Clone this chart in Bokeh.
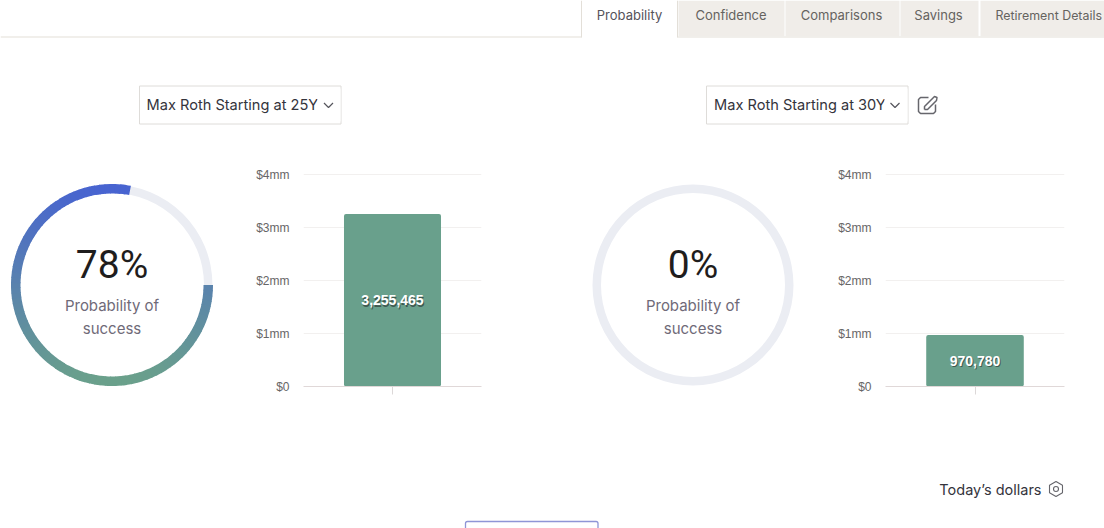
from bokeh.core.properties import value as val
from bokeh.embed import file_html
from bokeh.layouts import column, row
from bokeh.models import FactorRange, FixedTicker, Range1d
from bokeh.plotting import figure
from bokeh.resources import INLINE
import math

# ---- data ----
tab_labels = ["Probability", "Confidence", "Comparisons", "Savings", "Retirement Details"]
scenarios = ["Max Roth Starting at 25Y", "Max Roth Starting at 30Y"]
probabilities = [78, 0]
balances = [3255465, 970780]
balance_labels = ["3,255,465", "970,780"]
y_ticks = [0, 1000000, 2000000, 3000000, 4000000]
y_tick_labels = ["$0", "$1mm", "$2mm", "$3mm", "$4mm"]
donut_caption = ["Probability of", "success"]
currency_note = "Today\u2019s dollars"

UI = val("Inter")
LAB = val("Liberation Sans")
BIG = val("Roboto")
TRACK = "#ebedf3"
BAR = "#69a08c"
TOP_C = (72, 100, 208)
BOT_C = (106, 160, 139)


def canvas(w, h, x0, x1, y0, y1):
    p = figure(width=w, height=h, x_range=Range1d(x0, x1), y_range=Range1d(y0, y1),
               output_backend="svg", toolbar_location=None, min_border=0, frame_align=False)
    p.axis.visible = False
    p.grid.visible = False
    p.outline_line_color = None
    return p


def grad(t):
    c = [round(a + (b - a) * t) for a, b in zip(TOP_C, BOT_C)]
    return "#%02x%02x%02x" % tuple(c)


def donut(w, h, x0, x1, y0, y1, pct):
    p = canvas(w, h, x0, x1, y0, y1)
    p.annular_wedge(x=[0], y=[0], inner_radius=92, outer_radius=100.5, start_angle=[0], end_angle=[2 * math.pi],
                    fill_color=TRACK, line_color=None)
    sweep = 360 * pct / 100
    n = int(sweep / 3)
    if n:
        starts, ends, cols = [], [], []
        for i in range(n):
            a0 = sweep * i / n
            a1 = sweep * (i + 1) / n + (0.5 if i < n - 1 else 0)
            mid = math.radians((a0 + a1) / 2)
            starts.append(-math.radians(a0))
            ends.append(-math.radians(a1))
            cols.append(grad((math.sin(mid) + 1) / 2))
        p.annular_wedge(x=[0] * n, y=[0] * n, inner_radius=91.5, outer_radius=101, start_angle=starts,
                        end_angle=ends, direction="clock", fill_color=cols, line_color=None)
    p.text(x=[0], y=[20], text=[f"{pct}%"], text_font=BIG, text_font_size="39px", text_color="#1f1d1d",
           text_align="center", text_baseline="middle")
    p.text(x=[0, 0], y=[-20.5, -43.5], text=donut_caption, text_font=UI, text_font_size="15px", text_color="#6f6a78",
           text_align="center", text_baseline="middle")
    return p


def bars(w, h, left, right, name, value, label):
    p = figure(width=w, height=h, x_range=FactorRange(factors=[name]), y_range=Range1d(0, 4019000),
               output_backend="svg", toolbar_location=None, frame_align=False,
               min_border_left=left, min_border_right=right, min_border_top=23, min_border_bottom=14)
    p.outline_line_color = None
    p.vbar(x=[name], top=[value], width=0.545, fill_color=BAR, line_color=None, border_radius=2)
    p.text(x=[name], y=[value / 2], text=[label], x_offset=1, y_offset=1.5, text_font=LAB,
           text_font_style="bold", text_font_size="14px", text_color="#1c1c1c", text_alpha=0.55,
           text_align="center", text_baseline="middle")
    p.text(x=[name], y=[value / 2], text=[label], text_font=LAB, text_font_style="bold",
           text_font_size="14px", text_color="#ffffff", text_align="center", text_baseline="middle")
    p.xgrid.visible = False
    p.ygrid.grid_line_color = "#f2f0ef"
    p.yaxis.ticker = FixedTicker(ticks=y_ticks)
    p.yaxis.major_label_overrides = dict(zip(y_ticks, y_tick_labels))
    p.yaxis.axis_line_color = None
    p.yaxis.major_tick_line_color = None
    p.yaxis.minor_tick_line_color = None
    p.yaxis.major_label_standoff = 8
    p.yaxis.major_label_text_font = "Liberation Sans"
    p.yaxis.major_label_text_font_size = "12px"
    p.yaxis.major_label_text_color = "#666666"
    p.xaxis.axis_line_color = "#e0d8d8"
    p.xaxis.major_tick_line_color = "#dcd8d8"
    p.xaxis.major_tick_out = 8
    p.xaxis.major_tick_in = 0
    p.xaxis.major_label_text_font_size = "0px"
    p.xaxis.major_label_text_color = None
    return p


# ---- header: tabs and selectors (pixel space) ----
hdr = canvas(1104, 150, 0, 1104, 150, 0)
hdr.segment(x0=[0, 677], y0=[36.5, 36.5], x1=[581, 1104], y1=[36.5, 36.5], line_color="#e3dfd8", line_width=1.2)
hdr.quad(left=[678, 785, 900, 980], right=[784, 899, 978, 1106], top=[0, 0, 0, 0], bottom=[36, 36, 36, 36],
         fill_color="#f0ede9", line_color=None)
hdr.segment(x0=[581, 677], y0=[0, 0], x1=[581, 677], y1=[37, 37], line_color="#e3dfd8")
hdr.text(x=[629, 730.5, 841, 938], y=[14.5, 14.5, 14.5, 14.5], text=tab_labels[:4], text_font=UI,
         text_font_size="13px", text_color=["#55535a", "#65635f", "#65635f", "#65635f"],
         text_align="center", text_baseline="middle")
hdr.text(x=[995], y=[14.5], text=tab_labels[4:], text_font=UI, text_font_size="12.4px", text_color="#65635f",
         text_align="left", text_baseline="middle")
for box_l, txt_x, clip_l, chev, name in [(139, 146, 317, 328, scenarios[0]), (706, 713.5, 884, 894.5, scenarios[1])]:
    hdr.quad(left=[box_l], right=[box_l + 201.5], top=[85.5], bottom=[123.5], fill_color="#ffffff",
             line_color="#dedcd9")
    hdr.text(x=[txt_x], y=[104], text=[name], text_font=UI, text_font_size="14.6px", text_color="#34343c",
             text_align="left", text_baseline="middle")
    hdr.quad(left=[clip_l], right=[box_l + 201], top=[88], bottom=[121], fill_color="#ffffff", line_color=None)
    hdr.line(x=[chev - 4.5, chev, chev + 4.5], y=[102.5, 107, 102.5], line_color="#55555c", line_width=1.2)
hdr.multi_line(xs=[[928, 920, 918, 918, 920, 933, 935, 935], [924, 924, 934, 936.5, 936, 927, 924]],
               ys=[[97, 97, 99, 111, 113, 113, 111, 104], [109, 106, 96, 97, 100, 109, 109]],
               line_color="#66666c", line_width=1.5)

# ---- middle band ----
mid = row(
    donut(240, 250, -111.5, 128.5, -115.5, 134.5, probabilities[0]),
    bars(260, 250, 63, 19, scenarios[0], balances[0], balance_labels[0]),
    donut(320, 250, -192.5, 127.5, -115.5, 134.5, probabilities[1]),
    bars(284, 250, 65, 40, scenarios[1], balances[1], balance_labels[1]),
)

# ---- footer ----
ftr = canvas(1104, 128, 0, 1104, 528, 400)
ftr.text(x=[1041], y=[488.5], text=[currency_note], text_font=UI, text_font_size="14.5px", text_color="#34343c",
         text_align="right", text_baseline="middle")
ftr.scatter(x=[1055.5], y=[488.5], marker="hex", size=15, angle=math.pi / 2, fill_color=None, line_color="#66666c",
            line_width=1.1)
ftr.scatter(x=[1055.5], y=[488.5], marker="circle", size=5, fill_color=None, line_color="#66666c", line_width=1.1)
ftr.quad(left=[465], right=[597.5], top=[521], bottom=[532], fill_color="#ffffff", line_color="#8f95d6",
         line_width=1.3, border_radius=2)

layout = column(hdr, mid, ftr)
open("out.html", "w").write(file_html(layout, INLINE))
